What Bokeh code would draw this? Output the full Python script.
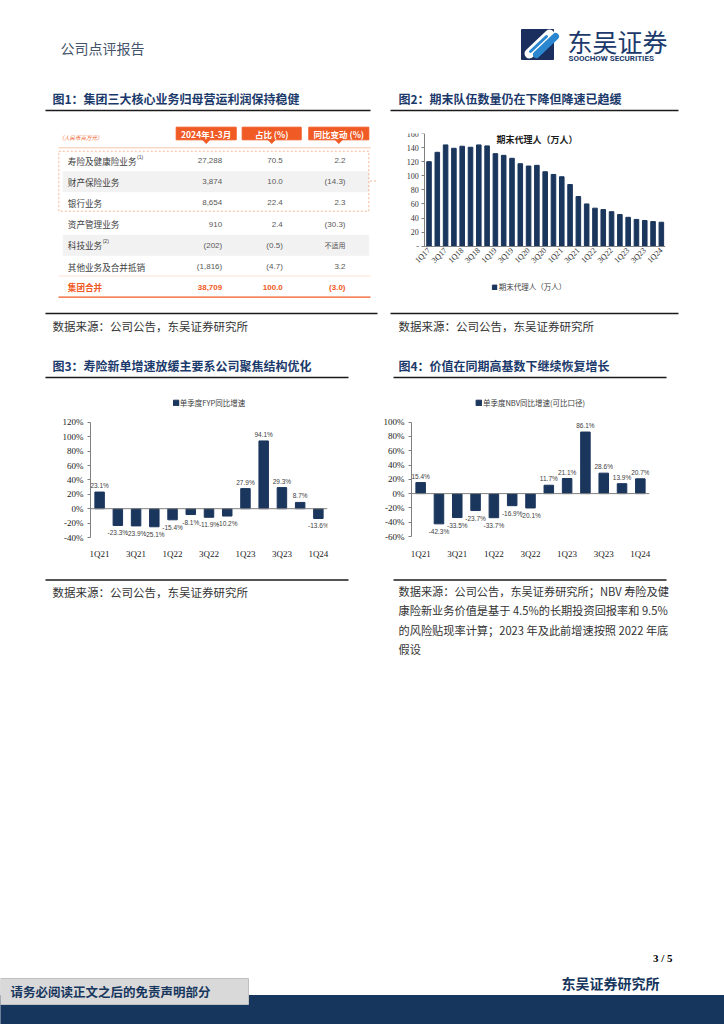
import numpy as np
from bokeh.plotting import figure
from bokeh.layouts import column, row
from bokeh.models import (Range1d, FixedTicker, PrintfTickFormatter, Legend, LegendItem,
                          Span, ColumnDataSource, LabelSet)
from bokeh.core.properties import value
from bokeh.embed import file_html
from bokeh.resources import INLINE

CJK = "Noto Sans CJK SC"
SERIF = "Liberation Serif"
SANS = "Liberation Sans"
NAVY = "#17365d"
BAR = "#1b365d"
TITLE_C = "#1b3a6b"
ORANGE = "#f05a24"
TEXT_C = "#333333"

# ---------------- data ----------------
table_header = ["2024年1-3月", "占比 (%)", "同比变动 (%)"]
table_names = ["寿险及健康险业务", "财产保险业务", "银行业务", "资产管理业务", "科技业务", "其他业务及合并抵销"]
table_notes = ["(1)", "", "", "", "(2)", ""]
table_profit = ["27,288", "3,874", "8,654", "910", "(202)", "(1,816)"]
table_share = ["70.5", "10.0", "22.4", "2.4", "(0.5)", "(4.7)"]
table_yoy = ["2.2", "(14.3)", "2.3", "(30.3)", "不适用", "3.2"]
total_row = ["集团合并", "38,709", "100.0", "(3.0)"]

agent_quarters = ["1Q17", "2Q17", "3Q17", "4Q17", "1Q18", "2Q18", "3Q18", "4Q18",
                  "1Q19", "2Q19", "3Q19", "4Q19", "1Q20", "2Q20", "3Q20", "4Q20",
                  "1Q21", "2Q21", "3Q21", "4Q21", "1Q22", "2Q22", "3Q22", "4Q22",
                  "1Q23", "2Q23", "3Q23", "4Q23", "1Q24"]
agent_counts = [120.0, 133.3, 143.8, 139.0, 141.9, 140.5, 143.8, 142.4,
                131.4, 129.0, 124.8, 117.1, 113.8, 114.8, 105.7, 101.9,
                98.6, 87.6, 70.5, 60.0, 54.0, 52.0, 49.0, 45.0,
                41.0, 38.0, 36.5, 35.0, 34.0]
agent_ticks = [0, 20, 40, 60, 80, 100, 120, 140, 160]

growth_quarters = ["1Q21", "2Q21", "3Q21", "4Q21", "1Q22", "2Q22", "3Q22", "4Q22",
                   "1Q23", "2Q23", "3Q23", "4Q23", "1Q24"]
fyp_growth = [23.1, -23.3, -23.9, -25.1, -15.4, -8.1, -11.9, -10.2, 27.9, 94.1, 29.3, 8.7, -13.6]
nbv_growth = [15.4, -42.3, -33.5, -23.7, -33.7, -16.9, -20.1, 11.7, 21.1, 86.1, 28.6, 13.9, 20.7]
fyp_ticks = [-40, -20, 0, 20, 40, 60, 80, 100, 120]
nbv_ticks = [-60, -40, -20, 0, 20, 40, 60, 80, 100]


# ---------------- helpers ----------------
def no_align(p):
    try:
        p.frame_align = False
    except Exception:
        pass


def canvas(x0, x1, y0, y1):
    p = figure(width=int(round(x1 - x0)), height=int(round(y1 - y0)),
               x_range=Range1d(x0, x1), y_range=Range1d(y1, y0),
               x_axis_location=None, y_axis_location=None,
               toolbar_location=None, output_backend="svg", min_border=0)
    p.grid.visible = False
    p.outline_line_color = None
    p.background_fill_color = "white"
    p.border_fill_color = "white"
    no_align(p)
    return p


def txt(p, x, y, s, size, color=TEXT_C, font=CJK, style="normal", align="left", baseline="middle"):
    p.text(x=[x], y=[y], text=[s], text_font=value(font), text_font_size=f"{size}px",
           text_color=color, text_font_style=style, text_align=align, text_baseline=baseline)


def hline(p, x0, x1, y, color="#1a1a1a", width=1.5, dash="solid"):
    p.segment(x0=[x0], y0=[y], x1=[x1], y1=[y], line_color=color, line_width=width, line_dash=dash)


def chart_fig(width, height, xr, yr, left, right, top, bottom):
    p = figure(width=width, height=height, x_range=xr, y_range=yr,
               toolbar_location=None, output_backend="svg",
               min_border_left=left, min_border_right=right,
               min_border_top=top, min_border_bottom=bottom)
    p.grid.visible = False
    p.outline_line_color = None
    p.background_fill_color = "white"
    p.border_fill_color = "white"
    no_align(p)
    return p


# ---------------- header ----------------
hd = canvas(0, 724, 0, 82)
txt(hd, 60, 47, "公司点评报告", 14, "#44546a")
hd.quad(left=[521], right=[553], top=[29], bottom=[59], color="#1b2f5e")
hd.segment(x0=[529], y0=[53], x1=[549], y1=[34], line_color="white", line_width=10, line_cap="round")
hd.segment(x0=[536], y0=[54], x1=[555], y1=[36], line_color="#2a86cf", line_width=7, line_cap="round")
hd.segment(x0=[530], y0=[51], x1=[546], y1=[36], line_color="#2a86cf", line_width=3, line_cap="round")
txt(hd, 567, 40, "东吴证券", 25, "#1b3a6b")
txt(hd, 568, 57.5, "SOOCHOW SECURITIES", 8, "#1b3a6b", font="Roboto", style="bold")

# ---------------- figure 1 : table ----------------
a1 = canvas(0, 380, 82, 345)
txt(a1, 52, 98, "图1：集团三大核心业务归母营运利润保持稳健", 12, TITLE_C, style="bold")
hline(a1, 45, 370, 110)

txt(a1, 58, 137, "（人民币百万元）", 5.5, ORANGE, style="italic")
box_l = [175.7, 241.7, 308.3]
box_r = [235.7, 300.7, 368.3]
a1.quad(left=box_l, right=box_r, top=[126.7] * 3, bottom=[139.3] * 3, color=ORANGE)
for l, r_, h in zip(box_l, box_r, table_header):
    c = (l + r_) / 2
    a1.patch(x=[c - 3.5, c + 3.5, c], y=[139.2, 139.2, 143], color=ORANGE)
    txt(a1, c, 133, h, 8.5, "white", style="bold", align="center")
hline(a1, 58, 370, 147.3, "#f8c3a5", 1)

row_y = [160, 181.2, 202.4, 223.6, 244.8, 266.0]
gray_rows = [1, 4]
for i in gray_rows:
    a1.quad(left=[62.7], right=[368.3], top=[row_y[i] - 10], bottom=[row_y[i] + 10], color="#f2f2f2")
a1.quad(left=[58.3], right=[368.3], top=[150.7], bottom=[210.7], fill_alpha=0,
        line_color="#f4a27a", line_width=0.8, line_dash="2 2")
hline(a1, 369.5, 377, 180.5, "#f4a27a", 0.8, "2 2")

name_x = 67.3
cjk_size = 8.6
for i, nm in enumerate(table_names):
    y = row_y[i]
    txt(a1, name_x, y, nm, cjk_size, "#404040")
    if table_notes[i]:
        txt(a1, name_x + len(nm) * cjk_size + 0.5, y - 4, table_notes[i], 5, "#404040", font=SANS)
    txt(a1, 221.7, y, table_profit[i], 8, "#595959", font=SANS, align="right")
    txt(a1, 282.3, y, table_share[i], 8, "#595959", font=SANS, align="right")
    yoy = table_yoy[i]
    if any(ch.isdigit() for ch in yoy):
        txt(a1, 345, y, yoy, 8, "#595959", font=SANS, align="right")
    else:
        txt(a1, 345, y, yoy, 7, "#595959", align="right")
hline(a1, 58, 370, 275.5, "#fbd9c6", 0.8)
total_y = 286.5
txt(a1, name_x, total_y, total_row[0], cjk_size, ORANGE, style="bold")
txt(a1, 221.7, total_y, total_row[1], 8, ORANGE, font=SANS, style="bold", align="right")
txt(a1, 282.3, total_y, total_row[2], 8, ORANGE, font=SANS, style="bold", align="right")
txt(a1, 345, total_y, total_row[3], 8, ORANGE, font=SANS, style="bold", align="right")
hline(a1, 58, 370, 296.7, ORANGE, 1.2)

hline(a1, 45, 377, 313)
txt(a1, 52, 325, "数据来源：公司公告，东吴证券研究所", 11.5, TEXT_C)

# ---------------- figure 2 ----------------
t2 = canvas(380, 724, 82, 120)
txt(t2, 398, 98, "图2：期末队伍数量仍在下降但降速已趋缓", 12, TITLE_C, style="bold")
hline(t2, 390, 678, 110)

ax = [int(i) for i in range(len(agent_quarters))]
# frame is widened to the left and down; both axes are pinned (y at first slot edge, x at 0)
c2 = chart_fig(344, 180, Range1d(-4.4, len(ax) - 0.5), Range1d(-70, 160), 12, 59, 13, 5)
r2 = c2.vbar(x=ax, top=agent_counts, width=0.55, color=BAR, legend_label="期末代理人（万人）")
c2.xaxis.fixed_location = 0
c2.yaxis.fixed_location = -0.5
c2.xaxis.bounds = (-0.5, len(ax) - 0.5)
c2.yaxis.bounds = (0, 160)
c2.yaxis.ticker = FixedTicker(ticks=agent_ticks)
c2.yaxis.major_label_overrides = {0: "-"}
c2.xaxis.ticker = FixedTicker(ticks=ax[::2])
c2.xaxis.major_label_overrides = {i: agent_quarters[i] for i in ax[::2]}
c2.xaxis.major_label_orientation = np.pi / 4
for a in (c2.xaxis, c2.yaxis):
    a.axis_line_color = "#808080"
    a.major_tick_line_color = "#808080"
    a.major_tick_out = 3
    a.major_tick_in = 0
    a.minor_tick_line_color = None
    a.major_label_text_font = SERIF
    a.major_label_text_font_size = "8px"
    a.major_label_text_color = "#333333"
c2.xaxis.major_tick_out = 0
c2.xaxis.major_label_standoff = 3
c2.yaxis.major_label_standoff = 3
c2.text(x=[13], y=[152], text=["期末代理人（万人）"], text_font=value(CJK), text_font_size="9px",
        text_font_style="bold", text_color="#1a1a1a", text_align="center", text_baseline="middle")
lg2 = c2.legend[0]
lg2.location = "bottom_center"
lg2.orientation = "horizontal"
lg2.border_line_color = None
lg2.background_fill_alpha = 0
lg2.label_text_font = CJK
lg2.label_text_font_size = "7.5px"
lg2.label_text_color = "#404040"
lg2.glyph_width = 6
lg2.glyph_height = 6
lg2.padding = 1
lg2.margin = 3
lg2.spacing = 0
lg2.label_standoff = 2
lg2.label_height = 8

s2 = canvas(380, 724, 300, 345)
hline(s2, 390, 678, 313)
txt(s2, 398, 325, "数据来源：公司公告，东吴证券研究所", 11.5, TEXT_C)


# ---------------- figures 3 & 4 ----------------
def growth_chart(width, vals, ticks, yr, legend_label, left, right, bottom, standoff):
    gx = [int(i) for i in range(len(growth_quarters))]
    p = chart_fig(width, 180, Range1d(-0.5, len(gx) - 0.5), yr, left, right, 8, bottom)
    p.vbar(x=gx, top=vals, width=0.52, color=BAR, legend_label=legend_label)
    p.add_layout(Span(location=0, dimension="width", line_color="#808080", line_width=1))
    labels = [f"{v:.1f}%" for v in vals]
    pi_ = [i for i in range(len(gx)) if vals[i] >= 0]
    ni_ = [i for i in range(len(gx)) if vals[i] < 0]
    pos = ColumnDataSource(dict(x=[gx[i] for i in pi_], y=[vals[i] for i in pi_], t=[labels[i] for i in pi_]))
    neg = ColumnDataSource(dict(x=[gx[i] for i in ni_], y=[vals[i] for i in ni_], t=[labels[i] for i in ni_]))
    p.add_layout(LabelSet(x="x", y="y", text="t", source=pos, y_offset=3, text_align="center",
                          text_baseline="bottom", text_font=value(SANS), text_font_size="6.5px",
                          text_color="#404040"))
    p.add_layout(LabelSet(x="x", y="y", text="t", source=neg, y_offset=-4, text_align="center",
                          text_baseline="top", text_font=value(SANS), text_font_size="6.5px",
                          text_color="#404040"))
    p.yaxis.bounds = (ticks[0], ticks[-1])
    p.yaxis.ticker = FixedTicker(ticks=ticks)
    p.yaxis.formatter = PrintfTickFormatter(format="%d%%")
    p.yaxis.axis_line_color = "#808080"
    p.yaxis.major_tick_line_color = "#808080"
    p.yaxis.major_tick_out = 3
    p.yaxis.major_tick_in = 0
    p.yaxis.minor_tick_line_color = None
    p.yaxis.major_label_standoff = 4
    p.xaxis.ticker = FixedTicker(ticks=gx[::2])
    p.xaxis.major_label_overrides = {i: growth_quarters[i] for i in gx[::2]}
    p.xaxis.axis_line_color = None
    p.xaxis.major_tick_line_color = None
    p.xaxis.minor_tick_line_color = None
    p.xaxis.major_label_standoff = standoff
    for a in (p.xaxis, p.yaxis):
        a.major_label_text_font = SERIF
        a.major_label_text_font_size = "9px"
        a.major_label_text_color = "#1a1a1a"
    lg = p.legend[0]
    lg.location = "top_center"
    lg.border_line_color = None
    lg.background_fill_alpha = 0
    lg.label_text_font = CJK
    lg.label_text_font_size = "7.5px"
    lg.label_text_color = "#404040"
    lg.glyph_width = 7
    lg.glyph_height = 7
    lg.padding = 1
    lg.margin = 4
    lg.label_standoff = 1
    lg.label_height = 9
    return p


t3 = canvas(0, 380, 345, 385)
txt(t3, 52, 365, "图3：寿险新单增速放缓主要系公司聚焦结构优化", 12, TITLE_C, style="bold")
hline(t3, 45, 348, 377)
c3 = growth_chart(380, fyp_growth, fyp_ticks, Range1d(-40, 160), "单季度FYP同比增速", 90, 53, 28, 5)
s3 = canvas(0, 380, 565, 660)
hline(s3, 45, 348, 579.5)
txt(s3, 52, 591, "数据来源：公司公告，东吴证券研究所", 11.5, TEXT_C)

t4 = canvas(380, 724, 345, 385)
txt(t4, 398, 365, "图4：价值在同期高基数下继续恢复增长", 12, TITLE_C, style="bold")
hline(t4, 393, 666, 377)
c4 = growth_chart(344, nbv_growth, nbv_ticks, Range1d(-60, 140), "单季度NBV同比增速(可比口径)", 29, 75, 29, 6)
s4 = canvas(380, 724, 565, 660)
hline(s4, 393, 666, 579.5)
src4 = ["数据来源：公司公告，东吴证券研究所；NBV 寿险及健",
        "康险新业务价值是基于 4.5%的长期投资回报率和 9.5%",
        "的风险贴现率计算；2023 年及此前增速按照 2022 年底",
        "假设"]
for k, line in enumerate(src4):
    txt(s4, 398, 590 + 19.5 * k, line, 11.2, TEXT_C)

# ---------------- footer ----------------
ft = canvas(0, 724, 660, 1024)
ft.quad(left=[0], right=[724], top=[995], bottom=[1024], color=NAVY)
ft.quad(left=[0], right=[248], top=[978], bottom=[1004], fill_color="#d9d9d9", line_color="#c0c0c0")
txt(ft, 10, 991, "请务必阅读正文之后的免责声明部分", 12.5, NAVY, style="bold")
txt(ft, 672, 957, "3 / 5", 11, "#000000", font=SERIF, style="bold", align="right")
txt(ft, 561, 982, "东吴证券研究所", 14, NAVY, style="bold")

layout = column(
    hd,
    row(a1, column(t2, c2, s2)),
    row(column(t3, c3, s3), column(t4, c4, s4)),
    ft,
)

open("out.html", "w").write(file_html(layout, INLINE))
